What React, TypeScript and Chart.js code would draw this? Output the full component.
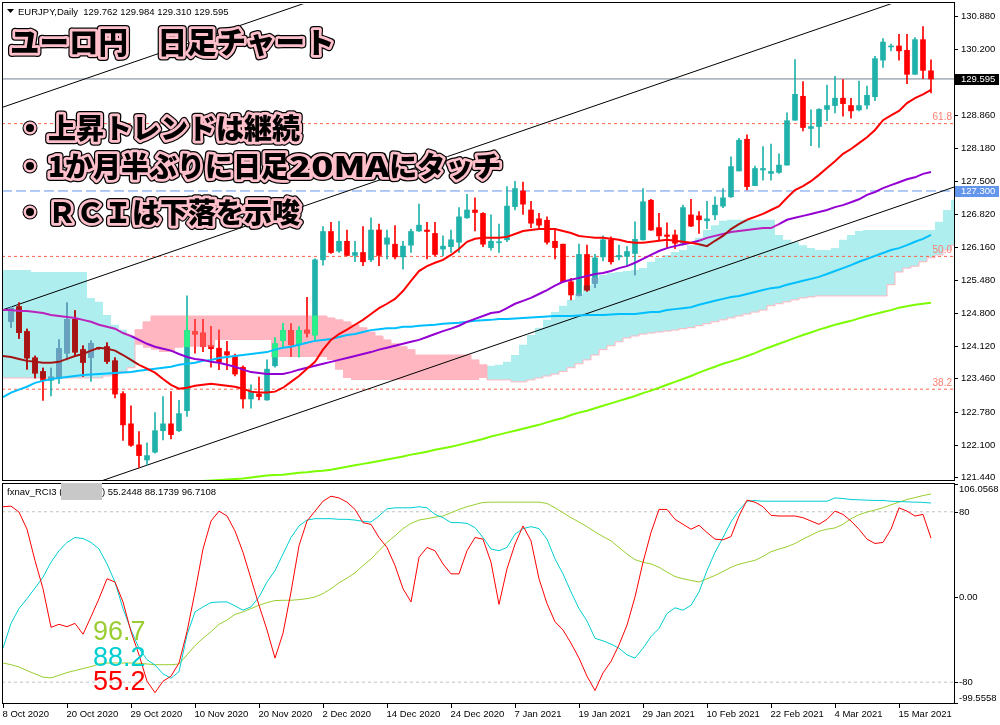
import React, { useEffect, useRef } from "react";
import { Chart, registerables } from "chart.js";

Chart.register(...registerables);

// ---------- axis / tick data ----------
const dateTickIndex = [0, 8, 16, 24, 32, 40, 48, 56, 64, 72, 80, 88, 96, 104, 112];
const dateTickLabels = ["8 Oct 2020", "20 Oct 2020", "29 Oct 2020", "10 Nov 2020", "20 Nov 2020", "2 Dec 2020", "14 Dec 2020", "24 Dec 2020", "7 Jan 2021", "19 Jan 2021", "29 Jan 2021", "10 Feb 2021", "22 Feb 2021", "4 Mar 2021", "15 Mar 2021"];
const priceTicks = [130.88, 130.2, 128.86, 128.18, 127.5, 126.82, 126.16, 125.48, 124.8, 124.12, 123.46, 122.78, 122.1, 121.44];
const rciTicks = [106.0568, 80, 0, -80, -99.5558];
const rciTickLabels = ["106.0568", "80", "0.00", "-80", "-99.5558"];
const rciHeaderValues = ["55.2448", "88.1739", "96.7108"];
const rciLastLabels = ["96.7", "88.2", "55.2"];

const lastPrice = 129.595;
const markedPrice = 127.3;
const fiboLevels = [128.68, 125.96, 123.24];
const fiboLabels = ["61.8", "50.0", "38.2"];
const channelStartPrice = [129.01, 124.86, 120.66];
const channelEndPrice = [135.73, 131.58, 127.38];

// ---------- OHLC (index 0 = 8 Oct 2020) ----------
const openPrices = [
  null, 124.63, 124.93, 124.42, 123.88, 123.60, 123.42, 123.47, 123.98, 124.67,
  124.05, 123.89, 124.08, 124.11, 123.82, 123.15, 122.53, 122.10, 121.79, 121.95,
  122.39, 122.53, 122.39, 122.80, 124.42, 124.39, 124.13, 124.08, 124.01, 123.92,
  123.69, 123.04, 123.14, 123.02, 123.72, 124.24, 124.44, 124.15, 124.45, 124.35,
  125.89, 126.47, 126.07, 126.27, 125.98, 126.04, 125.89, 126.50, 126.21, 126.21,
  125.95, 126.19, 126.48, 126.50, 126.43, 126.11, 126.16, 126.25, 126.75, 126.91,
  126.84, 126.14, 126.24, 126.30, 126.98, 127.30, 126.91, 126.73, 126.70, 126.27,
  126.21, 125.44, 125.16, 126.00, 125.41, 125.95, 126.30, 125.95, 125.96, 126.02,
  126.30, 127.11, 126.55, 126.40, 126.40, 126.23, 126.81, 126.79, 126.69, 126.81,
  126.99, 127.18, 127.71, 128.36, 127.41, 127.73, 127.66, 127.68, 127.83, 128.75,
  129.24, 128.58, 128.62, 128.97, 129.05, 129.20, 129.05, 128.96, 129.06, 129.23,
  129.98, 130.25, 130.27, 130.18, 129.69, 130.40, 129.762,
];
const highPrices = [
  null, 124.93, 125.01, 124.47, 123.92, 123.67, 123.67, 124.25, 125.01, 124.85,
  124.13, 124.23, 124.10, 124.19, 123.88, 123.19, 122.90, 122.37, 122.14, 122.76,
  123.09, 123.19, 123.01, 125.15, 124.67, 124.67, 124.52, 124.45, 124.22, 123.96,
  123.72, 123.33, 123.49, 123.84, 124.29, 124.59, 124.58, 124.52, 125.12, 125.91,
  126.57, 126.66, 126.68, 126.50, 126.27, 126.57, 126.75, 126.62, 126.50, 126.59,
  126.27, 126.52, 127.03, 126.66, 126.66, 126.38, 126.50, 126.96, 127.23, 127.16,
  126.86, 126.81, 126.62, 127.39, 127.50, 127.48, 127.09, 126.84, 126.77, 126.50,
  126.21, 125.51, 126.21, 126.19, 126.00, 126.38, 126.36, 126.19, 126.16, 126.67,
  127.35, 127.13, 126.84, 126.65, 126.50, 127.01, 127.13, 126.88, 127.09, 127.18,
  127.35, 128.00, 128.38, 128.45, 127.81, 128.21, 128.26, 128.06, 128.90, 129.99,
  129.54, 128.96, 128.99, 129.47, 129.65, 129.58, 129.20, 129.55, 129.45, 130.06,
  130.42, 130.31, 130.51, 130.51, 130.44, 130.67, 129.984,
];
const lowPrices = [
  null, 124.50, 124.28, 123.65, 123.47, 123.01, 123.10, 123.36, 123.84, 123.91,
  123.50, 123.40, 124.06, 123.77, 123.06, 122.19, 122.07, 121.64, 121.69, 121.93,
  122.20, 122.22, 122.37, 122.68, 123.98, 124.01, 123.69, 123.64, 123.64, 123.51,
  122.85, 122.85, 123.02, 123.01, 123.69, 124.11, 123.91, 123.90, 124.31, 124.25,
  125.78, 126.02, 126.04, 125.97, 125.85, 125.77, 125.85, 125.77, 125.91, 125.91,
  125.70, 126.04, 126.47, 125.91, 125.97, 125.97, 126.04, 126.04, 126.74, 126.48,
  126.16, 126.09, 126.04, 126.26, 126.91, 126.82, 126.55, 126.52, 126.21, 125.91,
  125.43, 125.07, 125.15, 125.25, 125.32, 125.87, 125.80, 125.89, 125.75, 125.58,
  126.29, 126.49, 126.30, 126.12, 126.12, 126.19, 126.57, 126.43, 126.53, 126.71,
  126.96, 127.17, 127.71, 127.32, 127.41, 127.52, 127.52, 127.66, 127.83, 128.75,
  128.53, 128.23, 128.19, 128.74, 128.90, 128.83, 128.79, 128.94, 128.98, 129.15,
  129.83, 130.17, 129.98, 129.50, 129.69, 129.60, 129.310,
];
const closePrices = [
  null, 124.90, 124.40, 123.88, 123.57, 123.42, 123.49, 124.07, 124.67, 124.00,
  123.79, 124.18, 124.07, 123.81, 123.14, 122.51, 122.09, 121.88, 121.88, 122.39,
  122.53, 122.31, 122.74, 124.44, 124.37, 124.11, 124.07, 123.79, 123.94, 123.55,
  123.04, 123.19, 123.09, 123.65, 124.17, 124.44, 124.15, 124.44, 124.39, 125.89,
  126.47, 126.04, 126.27, 125.98, 126.04, 125.85, 126.50, 125.98, 126.34, 125.95,
  126.17, 126.47, 126.60, 126.47, 126.00, 126.17, 126.30, 126.77, 126.91, 126.86,
  126.21, 126.27, 126.25, 126.99, 127.35, 127.03, 126.64, 126.60, 126.25, 126.14,
  125.44, 125.17, 126.00, 125.27, 125.93, 126.30, 125.85, 125.98, 126.06, 126.31,
  127.08, 126.50, 126.38, 126.37, 126.23, 126.96, 126.58, 126.71, 126.73, 127.01,
  127.16, 127.80, 128.34, 127.39, 127.76, 127.76, 127.70, 127.83, 128.74, 129.28,
  128.60, 128.62, 128.97, 129.05, 129.20, 129.09, 128.94, 129.05, 129.26, 130.01,
  130.35, 130.26, 130.17, 129.69, 130.40, 129.77, 129.595,
];

// ---------- moving averages ----------
const ma20 = [
  123.92, 123.90, 123.86, 123.82, 123.80, 123.78, 123.78, 123.80, 123.86, 123.92,
  123.96, 124.03, 124.09, 124.07, 124.03, 123.94, 123.84, 123.74, 123.66, 123.58,
  123.45, 123.33, 123.25, 123.27, 123.31, 123.33, 123.35, 123.33, 123.31, 123.29,
  123.25, 123.19, 123.17, 123.17, 123.19, 123.27, 123.39, 123.51, 123.66, 123.80,
  124.05, 124.25, 124.37, 124.46, 124.56, 124.66, 124.78, 124.90, 124.99, 125.09,
  125.25, 125.46, 125.66, 125.76, 125.83, 125.89, 125.99, 126.11, 126.26, 126.32,
  126.34, 126.34, 126.34, 126.36, 126.42, 126.48, 126.50, 126.52, 126.52, 126.52,
  126.48, 126.44, 126.38, 126.36, 126.34, 126.34, 126.32, 126.30, 126.26, 126.24,
  126.24, 126.26, 126.28, 126.30, 126.28, 126.26, 126.24, 126.21, 126.17, 126.28,
  126.38, 126.52, 126.62, 126.71, 126.77, 126.83, 126.91, 126.99, 127.16, 127.32,
  127.40, 127.50, 127.63, 127.77, 127.91, 128.06, 128.16, 128.28, 128.40, 128.55,
  128.75, 128.85, 128.94, 129.10, 129.20, 129.28, 129.37,
];
const maPurple = [
  124.86, 124.86, 124.84, 124.84, 124.82, 124.80, 124.76, 124.74, 124.72, 124.70,
  124.66, 124.62, 124.56, 124.52, 124.48, 124.39, 124.33, 124.25, 124.17, 124.11,
  124.07, 124.03, 123.96, 123.90, 123.86, 123.84, 123.80, 123.78, 123.74, 123.70,
  123.64, 123.59, 123.57, 123.55, 123.55, 123.55, 123.59, 123.64, 123.68, 123.72,
  123.76, 123.80, 123.84, 123.88, 123.92, 123.96, 124.00, 124.05, 124.09, 124.13,
  124.17, 124.21, 124.25, 124.31, 124.37, 124.43, 124.48, 124.54, 124.62, 124.68,
  124.74, 124.80, 124.82, 124.90, 124.99, 125.05, 125.11, 125.19, 125.27, 125.36,
  125.44, 125.48, 125.52, 125.56, 125.60, 125.62, 125.66, 125.72, 125.76, 125.83,
  125.91, 125.99, 126.07, 126.13, 126.17, 126.21, 126.24, 126.28, 126.34, 126.38,
  126.42, 126.46, 126.48, 126.50, 126.52, 126.54, 126.54, 126.62, 126.71, 126.75,
  126.79, 126.83, 126.87, 126.91, 126.97, 127.01, 127.07, 127.13, 127.22, 127.28,
  127.36, 127.42, 127.48, 127.54, 127.58, 127.65, 127.69,
];
const maBlue = [
  123.08, 123.17, 123.23, 123.29, 123.37, 123.41, 123.45, 123.47, 123.49, 123.51,
  123.53, 123.54, 123.55, 123.56, 123.57, 123.58, 123.59, 123.62, 123.64, 123.66,
  123.68, 123.70, 123.74, 123.76, 123.78, 123.82, 123.84, 123.88, 123.90, 123.92,
  123.94, 123.96, 123.98, 124.00, 124.05, 124.09, 124.11, 124.15, 124.19, 124.23,
  124.25, 124.27, 124.31, 124.35, 124.37, 124.41, 124.45, 124.47, 124.49, 124.49,
  124.52, 124.52, 124.54, 124.55, 124.56, 124.58, 124.59, 124.60, 124.62, 124.64,
  124.65, 124.66, 124.68, 124.68, 124.69, 124.70, 124.71, 124.72, 124.73, 124.74,
  124.74, 124.74, 124.75, 124.76, 124.76, 124.76, 124.77, 124.78, 124.78, 124.78,
  124.80, 124.82, 124.82, 124.86, 124.88, 124.90, 124.92, 124.97, 125.01, 125.05,
  125.09, 125.13, 125.15, 125.19, 125.23, 125.27, 125.31, 125.33, 125.38, 125.42,
  125.46, 125.50, 125.54, 125.60, 125.66, 125.72, 125.78, 125.85, 125.91, 125.97,
  126.03, 126.09, 126.13, 126.19, 126.26, 126.32, 126.40,
];
const maGreen = [
  120.87, 120.89, 120.92, 120.94, 120.96, 120.98, 121.00, 121.02, 121.04, 121.06,
  121.08, 121.10, 121.12, 121.14, 121.16, 121.18, 121.20, 121.22, 121.24, 121.26,
  121.28, 121.30, 121.32, 121.33, 121.34, 121.36, 121.37, 121.38, 121.39, 121.40,
  121.41, 121.43, 121.45, 121.47, 121.48, 121.49, 121.51, 121.53, 121.54, 121.56,
  121.57, 121.59, 121.62, 121.65, 121.68, 121.71, 121.74, 121.77, 121.80, 121.83,
  121.86, 121.90, 121.93, 121.96, 122.00, 122.03, 122.06, 122.10, 122.14, 122.18,
  122.22, 122.27, 122.31, 122.35, 122.39, 122.43, 122.47, 122.51, 122.56, 122.61,
  122.65, 122.71, 122.76, 122.80, 122.85, 122.90, 122.95, 123.00, 123.05, 123.10,
  123.16, 123.21, 123.27, 123.33, 123.39, 123.45, 123.51, 123.58, 123.64, 123.70,
  123.76, 123.81, 123.86, 123.92, 123.98, 124.05, 124.11, 124.17, 124.23, 124.29,
  124.35, 124.40, 124.46, 124.51, 124.56, 124.60, 124.64, 124.69, 124.74, 124.78,
  124.82, 124.86, 124.91, 124.94, 124.97, 124.99, 125.01,
];

// ---------- Ichimoku cloud (senkou span A / B) ----------
const spanA = [
  125.68, 125.68, 125.68, 125.68, 125.64, 125.64, 125.64, 125.64, 125.64, 125.64,
  125.64, 125.11, 125.03, 124.76, 124.56, 124.46, 124.33, 124.15, 124.09, 124.05,
  124.00, 124.00, 124.09, 124.11, 124.11, 124.11, 124.11, 124.25, 124.25, 124.25,
  124.25, 124.25, 124.25, 124.25, 123.90, 123.90, 123.90, 123.90, 123.90, 123.90,
  123.90, 123.84, 123.64, 123.47, 123.43, 123.43, 123.43, 123.43, 123.43, 123.43,
  123.43, 123.43, 123.43, 123.43, 123.43, 123.43, 123.43, 123.43, 123.43, 123.43,
  123.47, 123.72, 123.74, 123.80, 123.94, 124.15, 124.35, 124.50, 124.66, 124.82,
  124.95, 125.07, 125.19, 125.36, 125.52, 125.58, 125.62, 125.64, 125.66, 125.68,
  125.72, 125.85, 125.93, 125.99, 126.05, 126.09, 126.19, 126.34, 126.50, 126.60,
  126.69, 126.71, 126.71, 126.71, 126.71, 126.71, 126.71, 126.40, 126.30, 126.25,
  126.19, 126.13, 126.09, 126.09, 126.13, 126.30, 126.40, 126.48, 126.50, 126.50,
  126.50, 126.50, 126.50, 126.50, 126.50, 126.50, 126.50, 126.67, 126.91, 127.12,
];
const spanB = [
  123.47, 123.47, 123.47, 123.47, 123.47, 123.47, 123.47, 123.47, 123.47, 123.47,
  123.47, 123.47, 123.47, 123.51, 123.55, 123.60, 123.68, 124.46, 124.62, 124.74,
  124.74, 124.74, 124.74, 124.74, 124.74, 124.74, 124.74, 124.74, 124.74, 124.74,
  124.74, 124.74, 124.74, 124.74, 124.74, 124.74, 124.74, 124.74, 124.74, 124.74,
  124.74, 124.70, 124.66, 124.62, 124.56, 124.50, 124.41, 124.33, 124.25, 124.17,
  124.11, 124.05, 123.94, 123.94, 123.94, 123.94, 123.94, 123.94, 123.94, 123.84,
  123.74, 123.43, 123.43, 123.43, 123.39, 123.39, 123.43, 123.47, 123.51, 123.55,
  123.60, 123.68, 123.76, 123.84, 123.94, 124.05, 124.13, 124.21, 124.29, 124.33,
  124.37, 124.39, 124.41, 124.43, 124.45, 124.48, 124.50, 124.54, 124.58, 124.62,
  124.66, 124.70, 124.74, 124.78, 124.82, 124.86, 124.95, 124.99, 125.03, 125.07,
  125.11, 125.13, 125.15, 125.15, 125.15, 125.15, 125.15, 125.15, 125.15, 125.15,
  125.15, 125.38, 125.64, 125.72, 125.76, 125.85, 125.93, 125.99, 126.09, 126.19,
];

// ---------- RCI ----------
const rciShort = [
  84.7, 85.3, 79.7, 63.6, 34.1, 7.8, -28.5, -25.7, -27.9, -24.8,
  -35.0, -18.6, -1.6, 17.1, 14.0, -4.7, -32.6, -54.3, -79.1, -89.9,
  -79.1, -74.4, -62.0, -32.6, 4.7, 45.0, 71.3, 80.6, 76.0, 62.0,
  41.9, 17.1, -7.8, -31.0, -57.4, -34.1, 4.7, 48.1, 71.3, 80.6,
  89.9, 94.6, 93.0, 89.0, 82.2, 69.8, 68.2, 55.8, 46.5, 29.5,
  7.8, -4.7, 37.2, 46.5, 43.4, 31.0, 21.7, 21.7, 43.4, 55.8,
  54.3, 32.6, -7.0, 26.4, 49.6, 66.7, 52.7, 17.1, -6.2, -23.3,
  -31.0, -43.4, -57.4, -74.4, -87.8, -71.3, -60.5, -45.0, -26.4, 0,
  32.6, 60.5, 82.2, 82.2, 72.9, 68.2, 63.6, 67.3, 60.5, 54.3,
  53.6, 56.7, 76.0, 90.9, 89.0, 84.7, 76.6, 76.0, 76.0, 76.0,
  74.4, 71.3, 68.2, 72.9, 80.6, 77.5, 71.3, 63.6, 54.3, 50.2,
  51.2, 63.6, 83.7, 80.6, 76.0, 77.5, 55.2,
];
const rciMid = [
  -48.0, -24.8, -10.9, -1.6, 8.4, 18.6, 32.6, 43.4, 51.2, 55.8,
  54.9, 51.2, 45.0, 31.0, 14.0, -10.9, -31.0, -48.1, -58.9, -63.9,
  -72.2, -76.3, -70.1, -35.7, -14.0, -9.3, -5.3, -4.7, -4.7, -8.4,
  -12.4, -9.3, 0, 14.0, 24.8, 40.3, 55.8, 66.7, 72.2, 73.5,
  73.5, 73.5, 72.9, 72.9, 72.2, 71.0, 70.4, 76.0, 82.8, 83.7,
  83.7, 83.7, 84.7, 83.7, 77.5, 74.4, 69.8, 69.8, 69.1, 65.1,
  55.8, 45.0, 43.4, 46.5, 58.9, 64.2, 66.0, 64.2, 54.3, 35.7,
  21.7, 4.7, -10.9, -22.6, -38.8, -41.2, -44.3, -48.1, -54.3, -57.4,
  -48.1, -37.2, -29.5, -15.5, -10.2, -12.4, -7.8, 4.7, 24.8, 41.9,
  55.8, 70.4, 81.6, 89.9, 90.5, 89.9, 89.9, 89.9, 89.9, 89.9,
  89.9, 89.9, 89.9, 89.9, 93.0, 92.4, 91.5, 91.2, 90.9, 90.6,
  90.6, 89.9, 89.6, 89.3, 89.0, 88.8, 88.2,
];
const rciLong = [
  -62.0, -63.6, -65.7, -69.1, -72.2, -75.3, -76.0, -73.5, -71.0, -69.1,
  -67.3, -65.4, -62.9, -62.0, -62.0, -62.0, -62.0, -62.3, -62.9, -63.6,
  -63.6, -63.6, -62.9, -54.3, -45.6, -38.8, -32.6, -25.7, -21.7, -16.4,
  -14.0, -10.9, -7.8, -5.3, -3.4, -3.1, -3.1, -2.5, -1.6, 0,
  3.1, 7.8, 13.3, 17.7, 22.6, 29.5, 35.7, 43.4, 51.2, 57.4,
  64.2, 69.1, 72.2, 73.5, 75.0, 76.0, 79.1, 82.2, 84.7, 86.8,
  88.7, 89.0, 89.0, 89.0, 89.0, 89.0, 89.0, 89.0, 87.8, 83.7,
  79.1, 74.4, 70.4, 66.0, 61.1, 56.7, 52.7, 46.5, 40.3, 35.0,
  32.6, 31.0, 27.9, 23.3, 19.2, 17.1, 15.5, 14.0, 17.1, 20.2,
  23.9, 27.9, 30.7, 32.6, 34.4, 38.1, 42.5, 45.0, 47.1, 50.2,
  54.3, 58.0, 61.7, 63.6, 64.8, 68.2, 73.5, 77.2, 79.7, 81.6,
  83.7, 86.5, 89.0, 91.5, 93.3, 95.2, 96.7,
];

// ---------- layout / style constants ----------
const X_MIN = -0.125;
const X_MAX = 118.875;
const PRICE_MIN = 121.38;
const PRICE_MAX = 131.13;
const RCI_MIN = -99.5558;
const RCI_MAX = 106.0568;

const BULL = "#20b2aa";
const BEAR = "#ff0000";
const CLOUD_CYAN = "#afeeee";
const CLOUD_PINK = "#ffb6c1";
const AXIS_FONT = '9.5px "Liberation Sans", Arial, sans-serif';
const JP_FONT = '"Noto Sans CJK JP", "Noto Sans CJK SC", sans-serif';

const pts = (arr: any[]) => arr.map((v, i) => ({ x: i, y: v }));
const isBull = (i: number) => (closePrices[i] as number) >= (openPrices[i] as number);
const cloudIsCyan = (i: number) => spanA[i] >= spanB[i];
function clipToCloud(lo: number, hi: number, i: number) {
  const cLo = Math.min(spanA[i], spanB[i]);
  const cHi = Math.max(spanA[i], spanB[i]);
  const l = Math.max(lo, cLo);
  const h = Math.min(hi, cHi);
  return h > l ? [l, h] : null;
}
const inCyanCloud = (i: number, v: number) =>
  spanA[i] > spanB[i] && v < spanA[i] && v > spanB[i];

function hLine(v: number, color: string, dash: number[], order: number) {
  return {
    type: "line",
    data: [{ x: X_MIN, y: v }, { x: X_MAX, y: v }],
    borderColor: color,
    borderWidth: 1,
    borderDash: dash,
    pointRadius: 0,
    fill: false,
    order,
  };
}

// text pieces: [text, horizontal stretch]
function outlinedText(ctx: any, pieces: [string, number][], x: number, y: number, size: number) {
  ctx.font = `900 ${size}px ${JP_FONT}`;
  ctx.textAlign = "left";
  ctx.textBaseline = "middle";
  ctx.lineJoin = "round";
  let cx = x;
  pieces.forEach(([text, sx]) => {
    ctx.save();
    ctx.translate(cx, y);
    ctx.scale(sx, 1);
    ctx.strokeStyle = "#000";
    ctx.lineWidth = 8;
    ctx.strokeText(text, 0, 0);
    ctx.strokeStyle = "#ffc0cb";
    ctx.lineWidth = 5.5;
    ctx.strokeText(text, 0, 0);
    ctx.fillStyle = "#000";
    ctx.fillText(text, 0, 0);
    ctx.restore();
    cx += ctx.measureText(text).width * sx;
  });
}
function bulletDot(ctx: any, x: number, y: number) {
  const disc = (r: number, c: string) => {
    ctx.beginPath();
    ctx.arc(x, y, r, 0, Math.PI * 2);
    ctx.fillStyle = c;
    ctx.fill();
  };
  disc(7.5, "#000");
  disc(6.5, "#ffc0cb");
  disc(4, "#000");
}

const mainOverlay = {
  id: "mainOverlay",
  afterDraw(chart: any) {
    const ctx = chart.ctx;
    const ys = chart.scales.y;
    ctx.save();
    ctx.strokeStyle = "#000";
    ctx.lineWidth = 1;
    ctx.setLineDash([]);
    ctx.strokeRect(2.5, 2.5, 952, 478);
    // price axis
    ctx.font = AXIS_FONT;
    ctx.textAlign = "left";
    ctx.textBaseline = "middle";
    ctx.fillStyle = "#000";
    priceTicks.forEach((t) => {
      const y = Math.round(ys.getPixelForValue(t)) + 0.5;
      ctx.beginPath();
      ctx.moveTo(954, y);
      ctx.lineTo(958, y);
      ctx.stroke();
      ctx.fillText(t.toFixed(3), 961, y);
    });
    const box = (v: number, bg: string) => {
      const y = Math.round(ys.getPixelForValue(v));
      ctx.fillStyle = bg;
      ctx.fillRect(955, y - 5, 44, 11);
      ctx.fillStyle = "#fff";
      ctx.fillText(v.toFixed(3), 961, y + 0.5);
    };
    box(lastPrice, "#000");
    box(markedPrice, "#6495ed");
    // fibo labels
    ctx.font = '10px "Liberation Sans", Arial, sans-serif';
    ctx.textAlign = "right";
    ctx.textBaseline = "bottom";
    ctx.fillStyle = "#fa8072";
    fiboLevels.forEach((v, k) => {
      ctx.fillText(fiboLabels[k], 952, ys.getPixelForValue(v) - 1);
    });
    // header
    ctx.fillStyle = "#000";
    ctx.beginPath();
    ctx.moveTo(7, 9);
    ctx.lineTo(14, 9);
    ctx.lineTo(10.5, 13);
    ctx.closePath();
    ctx.fill();
    ctx.font = AXIS_FONT;
    ctx.textAlign = "left";
    ctx.textBaseline = "middle";
    const n = closePrices.length - 1;
    ctx.fillText(
      `EURJPY,Daily  ${(openPrices[n] as number).toFixed(3)} ${(highPrices[n] as number).toFixed(3)} ${(lowPrices[n] as number).toFixed(3)} ${(closePrices[n] as number).toFixed(3)}`,
      18,
      12
    );
    // title & notes
    outlinedText(ctx, [["ユーロ円　日足チャート", 1]], 10, 42, 29.5);
    const notes: [string, number][][] = [
      [["上昇トレンドは継続", 1]],
      [["1か月半ぶりに日足", 1], ["20MA", 1.3], ["にタッチ", 1]],
      [["ＲＣＩは下落を示唆", 1]],
    ];
    const noteY = [128, 166, 212];
    notes.forEach((p, k) => {
      bulletDot(ctx, 30, noteY[k]);
      outlinedText(ctx, p, 48, noteY[k], 28);
    });
    ctx.restore();
  },
};

const rciOverlay = {
  id: "rciOverlay",
  afterDraw(chart: any) {
    const ctx = chart.ctx;
    const ys = chart.scales.y;
    const xs = chart.scales.x;
    const top = chart.chartArea.top;
    const bottom = chart.chartArea.bottom;
    ctx.save();
    ctx.strokeStyle = "#000";
    ctx.lineWidth = 1;
    ctx.setLineDash([]);
    ctx.strokeRect(2.5, 1.5, 952, 220);
    ctx.font = AXIS_FONT;
    ctx.fillStyle = "#000";
    ctx.textAlign = "left";
    ctx.textBaseline = "middle";
    rciTicks.forEach((t, k) => {
      const y = Math.round(ys.getPixelForValue(t)) + 0.5;
      ctx.beginPath();
      ctx.moveTo(954, y);
      ctx.lineTo(958, y);
      ctx.stroke();
      const ly = Math.min(Math.max(y, top + 5), bottom - 5);
      ctx.fillText(rciTickLabels[k], 959, ly);
    });
    // header
    ctx.fillText("fxnav_RCI3 (", 7, 10);
    ctx.fillStyle = "#c8c8c8";
    ctx.fillRect(61, 1, 41, 17);
    ctx.fillStyle = "#000";
    ctx.fillText(`) ${rciHeaderValues.join(" ")}`, 102, 10);
    // big last-value labels
    ctx.font = '27px "Liberation Sans", Arial, sans-serif';
    ctx.textBaseline = "alphabetic";
    const bigColors = ["#9acd32", "#00ced1", "#ff0000"];
    const bigY = [158, 184, 208];
    rciLastLabels.forEach((s, k) => {
      ctx.fillStyle = bigColors[k];
      ctx.fillText(s, 93, bigY[k]);
    });
    // date axis
    ctx.font = AXIS_FONT;
    ctx.fillStyle = "#000";
    dateTickIndex.forEach((idx, k) => {
      const x = Math.round(xs.getPixelForValue(idx)) + 0.5;
      ctx.beginPath();
      ctx.moveTo(x, 221);
      ctx.lineTo(x, 226);
      ctx.stroke();
      ctx.fillText(dateTickLabels[k], x - 1, 235);
    });
    ctx.restore();
  },
};

function buildMainConfig() {
  const idx = openPrices.map((_, i) => i).filter((i) => openPrices[i] != null);
  const wickData: any[] = [];
  const wickColors: string[] = [];
  const bodyData: any[] = [];
  const bodyColors: string[] = [];
  const cWickData: any[] = [];
  const cWickColors: string[] = [];
  const cBodyData: any[] = [];
  const cBodyColors: string[] = [];
  idx.forEach((i) => {
    const o = openPrices[i] as number;
    const c = closePrices[i] as number;
    const h = highPrices[i] as number;
    const l = lowPrices[i] as number;
    const up = isBull(i);
    wickData.push({ x: i, y: [l, h] });
    wickColors.push(up ? BULL : BEAR);
    bodyData.push({ x: i, y: [Math.min(o, c), Math.max(o, c)] });
    bodyColors.push(up ? BULL : BEAR);
    const inColor = cloudIsCyan(i)
      ? up ? "#6a9fc0" : "#a51515"
      : up ? "#2af08a" : "#ff4a4a";
    const w = clipToCloud(l, h, i);
    if (w) {
      cWickData.push({ x: i, y: w });
      cWickColors.push(inColor);
    }
    const b = clipToCloud(Math.min(o, c), Math.max(o, c), i);
    if (b) {
      cBodyData.push({ x: i, y: b });
      cBodyColors.push(inColor);
    }
  });
  const barCommon = { type: "bar", grouped: false, borderWidth: 0, borderSkipped: false };
  const datasets: any[] = [
    {
      type: "line",
      data: pts(spanA),
      borderColor: "rgba(0,0,0,0)",
      borderWidth: 1,
      pointRadius: 0,
      stepped: "middle",
      fill: { target: "+1", above: CLOUD_CYAN, below: CLOUD_PINK },
      order: 100,
    },
    {
      type: "line",
      data: pts(spanB),
      borderColor: CLOUD_PINK,
      borderWidth: 1,
      pointRadius: 0,
      stepped: "middle",
      fill: false,
      order: 99,
    },
    hLine(fiboLevels[0], "#ff6347", [3, 3], 90),
    hLine(fiboLevels[1], "#ff6347", [3, 3], 90),
    hLine(fiboLevels[2], "#ff6347", [3, 3], 90),
    hLine(lastPrice, "#708090", [], 89),
    hLine(markedPrice, "#6495ed", [10, 4], 88),
    ...channelStartPrice.map((p, k) => ({
      type: "line",
      data: [{ x: X_MIN, y: p }, { x: X_MAX, y: channelEndPrice[k] }],
      borderColor: "#000",
      borderWidth: 1,
      pointRadius: 0,
      fill: false,
      order: 80,
    })),
    { ...barCommon, data: wickData, backgroundColor: wickColors, barThickness: 1, order: 50 },
    { ...barCommon, data: bodyData, backgroundColor: bodyColors, barThickness: 5, minBarLength: 1, order: 49 },
    { ...barCommon, data: cWickData, backgroundColor: cWickColors, barThickness: 1, order: 48 },
    { ...barCommon, data: cBodyData, backgroundColor: cBodyColors, barThickness: 5, minBarLength: 1, order: 47 },
    { type: "line", data: pts(maGreen), borderColor: "#7cfc00", borderWidth: 2, pointRadius: 0, fill: false, order: 10 },
    { type: "line", data: pts(maBlue), borderColor: "#00bfff", borderWidth: 2, pointRadius: 0, fill: false, order: 9 },
    {
      type: "line",
      data: pts(maPurple),
      borderColor: "#9400d3",
      borderWidth: 2,
      pointRadius: 0,
      fill: false,
      segment: {
        borderColor: (c: any) => (inCyanCloud(c.p0DataIndex, maPurple[c.p0DataIndex]) ? "#bb22bb" : "#9400d3"),
      },
      order: 8,
    },
    {
      type: "line",
      data: pts(ma20),
      borderColor: "#ff0000",
      borderWidth: 2,
      pointRadius: 0,
      fill: false,
      segment: {
        borderColor: (c: any) => (inCyanCloud(c.p0DataIndex, ma20[c.p0DataIndex]) ? "#a51414" : "#ff0000"),
      },
      order: 7,
    },
  ];
  return {
    type: "bar",
    data: { datasets },
    options: {
      responsive: false,
      animation: false,
      devicePixelRatio: 1,
      events: [],
      layout: { padding: { left: 2, right: 46, top: 4, bottom: 2 } },
      plugins: {
        legend: { display: false },
        tooltip: { enabled: false },
        filler: { propagate: false, drawTime: "beforeDatasetsDraw" },
      },
      scales: {
        x: { type: "linear", min: X_MIN, max: X_MAX, offset: false, display: false },
        y: { type: "linear", min: PRICE_MIN, max: PRICE_MAX, display: false },
      },
    },
    plugins: [mainOverlay],
  };
}

function buildRciConfig() {
  const line = (arr: number[], color: string, order: number) => ({
    type: "line",
    data: pts(arr),
    borderColor: color,
    borderWidth: 1,
    pointRadius: 0,
    fill: false,
    order,
  });
  return {
    type: "line",
    data: {
      datasets: [
        hLine(80, "#c0c0c0", [3, 3], 20),
        hLine(-80, "#c0c0c0", [3, 3], 20),
        line(rciLong, "#9acd32", 3),
        line(rciMid, "#00ced1", 2),
        line(rciShort, "#ff0000", 1),
      ],
    },
    options: {
      responsive: false,
      animation: false,
      devicePixelRatio: 1,
      events: [],
      layout: { padding: { left: 2, right: 46, top: 2, bottom: 22 } },
      plugins: { legend: { display: false }, tooltip: { enabled: false } },
      scales: {
        x: { type: "linear", min: X_MIN, max: X_MAX, offset: false, display: false },
        y: { type: "linear", min: RCI_MIN, max: RCI_MAX, display: false },
      },
    },
    plugins: [rciOverlay],
  };
}

export default function App() {
  const mainRef = useRef<HTMLCanvasElement>(null);
  const rciRef = useRef<HTMLCanvasElement>(null);
  useEffect(() => {
    const c1 = new Chart(mainRef.current as any, buildMainConfig() as any);
    const c2 = new Chart(rciRef.current as any, buildRciConfig() as any);
    return () => {
      c1.destroy();
      c2.destroy();
    };
  }, []);
  return (
    <div style={{ position: "absolute", left: 0, top: 0, width: 1000, height: 725, background: "#fff" }}>
      <canvas ref={mainRef} width={1000} height={482} style={{ position: "absolute", left: 0, top: 0 }} />
      <canvas ref={rciRef} width={1000} height={243} style={{ position: "absolute", left: 0, top: 482 }} />
    </div>
  );
}
